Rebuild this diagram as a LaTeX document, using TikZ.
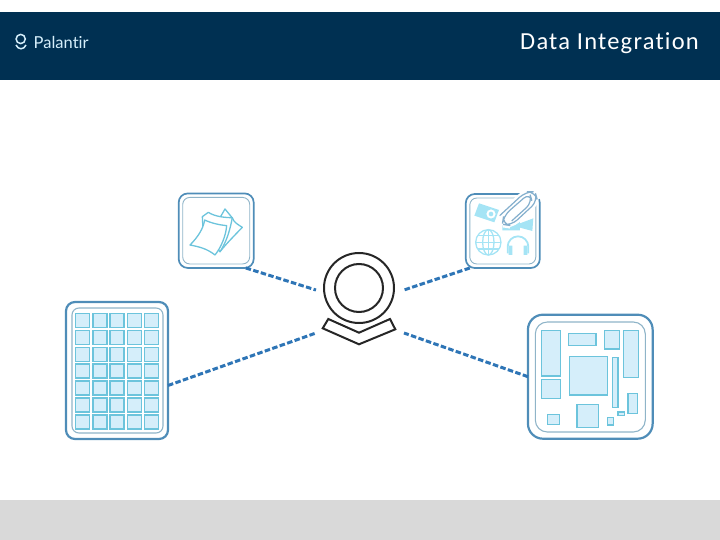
\documentclass[tikz,border=0pt]{standalone}
\usepackage{fontspec}
\setmainfont{Carlito}
\newfontfamily\logofont{Lato}
\definecolor{headblue}{HTML}{003052}
\definecolor{footgray}{HTML}{D9D9D9}
\definecolor{linkblue}{HTML}{2E75B6}
\definecolor{rimblue}{HTML}{4F8DB8}
\definecolor{rimgray}{HTML}{8FB4C8}
\definecolor{cellfill}{HTML}{D5EEFA}
\definecolor{celldraw}{HTML}{6CC4DC}
\definecolor{iconblue}{HTML}{A5E4F5}
\begin{document}
\begin{tikzpicture}[x=1pt,y=-1pt,
	outer/.style={draw=rimblue, line width=2.2pt, rounded corners=9pt, inner sep=0pt, outer sep=0pt},
	inner/.style={draw=rimgray, line width=1.1pt, rounded corners=7pt, inner sep=0pt, outer sep=0pt},
	cell/.style={draw=celldraw, fill=cellfill, line width=1.5pt},
	sheet/.style={draw=celldraw, fill=white, line width=1.3pt, line join=round},
	link/.style={draw=linkblue, line width=3pt, dash pattern=on 5.5pt off 2.4pt},
	hubline/.style={draw=black!85, line width=2pt},
	icon/.style={fill=iconblue, draw=none},
	iconline/.style={draw=iconblue, line width=1.3pt}]
	\useasboundingbox (0,0) rectangle (720,540);
	\fill[headblue] (0,12) rectangle (720,80);
	\fill[footgray] (0,500) rectangle (720,540);
	\node[anchor=east, text=white, font=\fontsize{24.5}{26}\selectfont\addfontfeature{LetterSpace=5,Ligatures=NoCommon}, inner sep=0pt] (title) at (699,43.5) {Data Integration};
	\node[anchor=west, text=cellfill, font=\fontsize{16.5}{20}\selectfont\logofont\addfontfeature{Ligatures=NoCommon}, inner sep=0pt] (logo) at (33.5,42) {Palantir};
	\draw[cellfill, line width=1.5pt] (20.7,39) circle (4.6);
	\draw[cellfill, line width=1.5pt] (16,45) .. controls (18,50) and (24,50) .. (26,45);
	% tiles
	\node[outer, line width=1.7pt, minimum width=75pt, minimum height=74.5pt] (docs) at (216.2,230.7) {};
	\node[inner, line width=.9pt, minimum width=67pt, minimum height=66.5pt] (docsin) at (216.2,230.7) {};
	\node[outer, line width=1.7pt, minimum width=74pt, minimum height=74pt] (media) at (502.8,231) {};
	\node[inner, line width=.9pt, minimum width=66pt, minimum height=66pt] (mediain) at (502.8,231) {};
	\node[outer, minimum width=102pt, minimum height=137pt] (table) at (117,370.5) {};
	\node[inner, minimum width=91pt, minimum height=125pt] (tablein) at (117.5,370.5) {};
	\node[outer, rounded corners=15pt, minimum width=124.7pt, minimum height=124pt] (board) at (590.3,376.7) {};
	\node[inner, rounded corners=12pt, minimum width=110pt, minimum height=110pt] (boardin) at (590.3,377) {};
	% hub
	\node[hubline, circle, minimum size=70pt, inner sep=0pt] (hub) at (359,288) {};
	\node[hubline, circle, minimum size=48pt, inner sep=0pt] (hubin) at (359,288) {};
	\draw[hubline, line join=miter] (328.3,319) -- (359,332.7) -- (390,319) -- (395.3,329.3) -- (359,344.3) -- (322.7,328.3) -- cycle;
	\coordinate (hubnw) at (316,290);
	\coordinate (hubne) at (404,290);
	\coordinate (hubsw) at (316,333);
	\coordinate (hubse) at (404,333);
	\draw[link] ([xshift=-8pt]docs.south east) -- (hubnw);
	\draw[link] ([yshift=-15pt]table.east) -- (hubsw);
	\draw[link] ([xshift=4pt]media.south west) -- (hubne);
	\draw[link] (board.west) -- (hubse);
	% table cells
	\foreach \col in {0,...,4}
		\foreach \row in {0,...,6}
			\draw[cell] (75.5+17.3*\col,313.5+16.9*\row) rectangle ++(14,14);
	% board parts
	\begin{scope}[shift={(520,308)},x=.3333pt,y=-.3333pt]
		\foreach \xa/\ya/\xb/\yb in {64/68/122/204,64/214/122/272,146/76/228/113,253/68/299/123,310/68/356/209,148/145/263/261,277/148/294/298,324/257/352/316,294/312/313/322,262/329/281/351,171/289/235/358,83/319/118/349}
			\draw[cell] (\xa,\ya) rectangle (\xb,\yb);
	\end{scope}
	% paper sheets
	\begin{scope}[shift={(170,185)},x=.3333pt,y=-.3333pt]
		\draw[sheet] (165,72) -- (188,100) .. controls (190,110) and (205,120) .. (217,127) .. controls (195,150) and (170,175) .. (150,200) -- (120,150) -- cycle;
		\draw[sheet] (97,95) -- (115,82) .. controls (135,95) and (165,98) .. (187,98) .. controls (180,135) and (170,170) .. (150,200) -- (100,150) -- cycle;
		\draw[sheet] (104,105) .. controls (125,115) and (150,120) .. (170,122) .. controls (168,150) and (155,185) .. (135,210) .. controls (110,190) and (85,185) .. (60,180) .. controls (85,155) and (100,130) .. (104,105) -- cycle;
	\end{scope}
	% media icons
	\begin{scope}[shift={(455,185)},x=.3333pt,y=-.3333pt]
		\fill[icon, even odd rule] (72,55) -- (132,75) -- (118,112) -- (58,92) -- cycle (108,87) circle (14) (108,87) circle (7);
		\fill[icon] (142,122) -- (195,100) -- (195,115) -- (235,100) -- (232,138) -- (195,128) -- (195,136) -- (142,136) -- cycle;
		\draw[iconline] (100,172) circle (38);
		\draw[iconline] (100,172) ellipse (17 and 38);
		\draw[iconline] (62,172) -- (138,172) (68,152) -- (132,152) (68,192) -- (132,192) (100,134) -- (100,210);
		\draw[iconline, line width=1.8pt] (158,205) -- (158,185) arc (180:360:31) -- (220,205);
		\fill[icon] (161,182) rectangle (172,210) (206,182) rectangle (217,210);
		\draw[white, line width=6pt, rounded corners=8pt] (170,108) -- (232,52) -- (224,24) -- (146,92) -- (142,118) -- (168,122) -- (248,48) -- (240,20) -- (212,20) -- (134,92);
		\draw[rimblue!70, line width=1.2pt, rounded corners=8pt] (170,108) -- (232,52) -- (224,24) -- (146,92) -- (142,118) -- (168,122) -- (248,48) -- (240,20) -- (212,20) -- (134,92);
	\end{scope}
\end{tikzpicture}
\end{document}
